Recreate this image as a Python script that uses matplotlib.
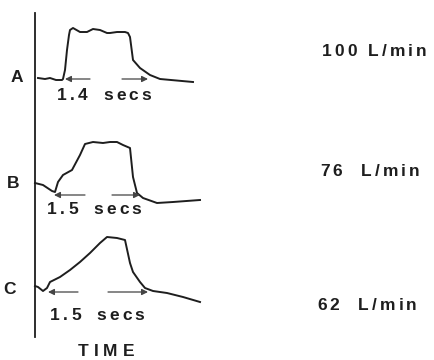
import matplotlib.pyplot as plt

# === Traces (time in chart units from the axis, flow above baseline) ===
a_time = [3, 10, 15, 21, 27, 28, 30, 32, 34, 35, 38, 45, 52, 58, 65, 72, 75, 82, 90, 93, 95, 98, 105, 115, 125, 158]
a_flow = [2, 1, 2, 0, 0, 1, 10, 30, 45, 50, 52, 48, 48, 51, 50, 47, 47, 48, 48, 47, 43, 20, 12, 5, 1, -2]

b_time = [0, 8, 17, 20, 23, 28, 37, 45, 50, 58, 68, 75, 82, 88, 95, 98, 102, 108, 122, 138, 165]
b_flow = [17, 15, 9, 8, 18, 25, 30, 45, 56, 58, 57, 58, 58, 55, 52, 23, 7, 2, -3, -2, 0]

c_time = [0, 3, 8, 12, 15, 25, 35, 45, 55, 65, 72, 82, 90, 95, 98, 105, 110, 118, 132, 148, 165]
c_flow = [6, 5, 1, 4, 10, 15, 22, 30, 39, 49, 55, 54, 52, 29, 20, 10, 4, 1, -1, -5, -10]

labels = ["A", "B", "C"]
durations = ["1.4 secs", "1.5 secs", "1.5 secs"]
rates = ["100 L/min", "76 L/min", "62 L/min"]

# layout in pixels
AXIS_X = 35
baselines = [80, 200, 292]
arrow_y = [79, 195, 292]
left_arrows = [(90, 65), (85, 54), (78, 48)]
right_arrows = [(122, 148), (112, 140), (108, 148)]
dur_left = [57, 47, 50]
dur_y = [96, 210, 316]
label_pos = [(17, 77), (13, 183), (10, 289)]
rate_left = [322, 320, 317]
rate_y = [52, 172, 305]
rate_space = [5, 13, 13]

INK = "#1e1e1e"
SIZE = 12.5

fig = plt.figure(figsize=(4.35, 3.6), dpi=100)
ax = fig.add_axes([0, 0, 1, 1])
ax.set_xlim(0, 435)
ax.set_ylim(360, 0)
ax.axis("off")
renderer = fig.canvas.get_renderer()

font = dict(family="Liberation Sans", weight="bold", color=INK)


def spaced(x, y, s, size, track, space, align="left"):
    # draw text one glyph at a time to get the wide letter spacing
    widths = []
    for ch in s:
        if ch == " ":
            widths.append(space)
            continue
        t = ax.text(0, 0, ch, fontsize=size, **font)
        widths.append(t.get_window_extent(renderer).width)
        t.remove()
    total = sum(widths) + track * (len(s) - 1)
    if align == "center":
        x = x - total / 2
    for ch, w in zip(s, widths):
        if ch != " ":
            ax.text(x, y, ch, fontsize=size, ha="left", va="center", **font)
        x += w + track


# vertical axis line
ax.plot([AXIS_X, AXIS_X], [13, 337], color=INK, lw=1.3)

traces = [(a_time, a_flow), (b_time, b_flow), (c_time, c_flow)]

for i, (t, f) in enumerate(traces):
    xs = [AXIS_X + v for v in t]
    ys = [baselines[i] - v for v in f]
    ax.plot(xs, ys, color=INK, lw=1.4, solid_joinstyle="round")

    for (x0, x1) in (left_arrows[i], right_arrows[i]):
        ax.annotate("", xy=(x1, arrow_y[i]), xytext=(x0, arrow_y[i]),
                    arrowprops=dict(arrowstyle="-|>", color="#444444", lw=0.9,
                                    mutation_scale=9, shrinkA=0, shrinkB=0))

    spaced(dur_left[i], dur_y[i], durations[i], SIZE, 3.2, 9)
    ax.text(*label_pos[i], labels[i], ha="center", va="center", fontsize=SIZE, **font)
    spaced(rate_left[i], rate_y[i], rates[i], SIZE, 3.0, rate_space[i])

spaced(106, 351, "TIME", SIZE, 5, 4, align="center")

fig.savefig("out.png", dpi=100)
